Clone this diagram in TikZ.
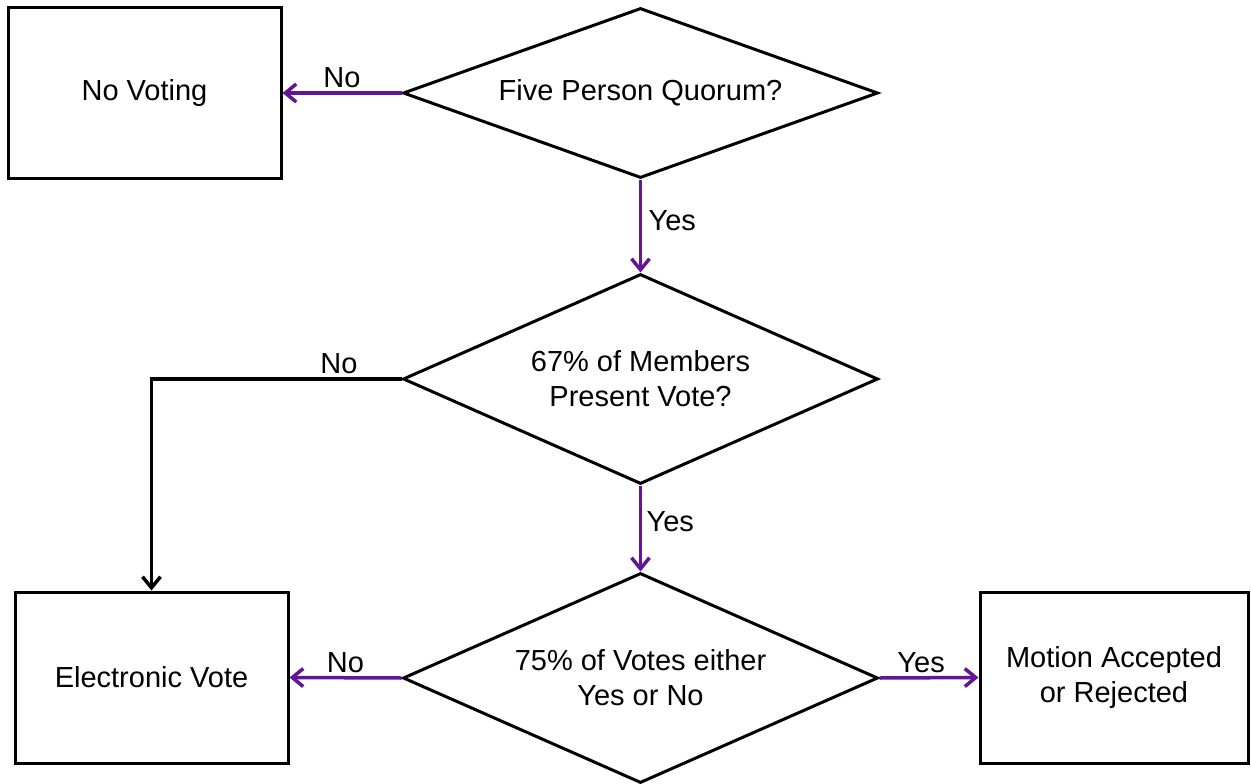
\documentclass[tikz,border=0pt]{standalone}
\usepackage{fontspec}
\setmainfont{Liberation Sans}
\usetikzlibrary{shapes.geometric,arrows.meta}
\definecolor{flowpurple}{RGB}{100,20,150}
\begin{document}
\begin{tikzpicture}[x=1pt,y=-1pt,
  every node/.style={font=\fontsize{29}{35}\selectfont},
  box/.style={draw,line width=3pt,rectangle,inner sep=0pt,align=center},
  decision/.style={draw,line width=3pt,diamond,inner sep=0pt,align=center,
    minimum width=475pt},
  flow/.style={line width=3.5pt,-{Straight Barb[length=11pt,width=18pt,line width=3.5pt]}},
  yesno/.style={flow,draw=flowpurple},
  plainflow/.style={flow,draw=black}]
\useasboundingbox (0,0) rectangle (1251,784);
\fill[white] (0,0) rectangle (1251,784);

% decisions
\node[decision,aspect=2.8,minimum height=170pt] (quorum) at (640.5,93) {Five Person Quorum?};
\node[decision,aspect=2.26,minimum height=210pt] (present) at (640.5,379) {67\% of Members\\Present Vote?};
\node[decision,aspect=2.26,minimum height=210pt] (votes) at (640.5,678) {75\% of Votes either\\Yes or No};

% outcomes
\node[box,minimum width=273pt,minimum height=170pt] (novote) at (144.5,93) {No Voting};
\node[box,minimum width=273pt,minimum height=171pt] (evote) at (151.5,677.5) {Electronic Vote};
\node[box,minimum width=268pt,minimum height=171pt] (motion) at (1114,677.5) {Motion Accepted\\or Rejected};

% connectors
\draw[yesno] (quorum.west) -- node[above] {No} (novote.east);
\draw[yesno] (quorum.south) -- node[right,pos=0.44,xshift=3pt] {Yes} (present.north);
\draw[plainflow] (present.west) -- node[above,pos=0.25] {No} (evote.north |- present.west) -- (evote.north);
\draw[yesno] (present.south) -- node[right,pos=0.42,xshift=1pt] {Yes} (votes.north);
\draw[yesno] (votes.west) -- node[above] {No} (evote.east);
\draw[yesno] (votes.east) -- node[above,pos=0.42] {Yes} (motion.west);
\end{tikzpicture}
\end{document}
